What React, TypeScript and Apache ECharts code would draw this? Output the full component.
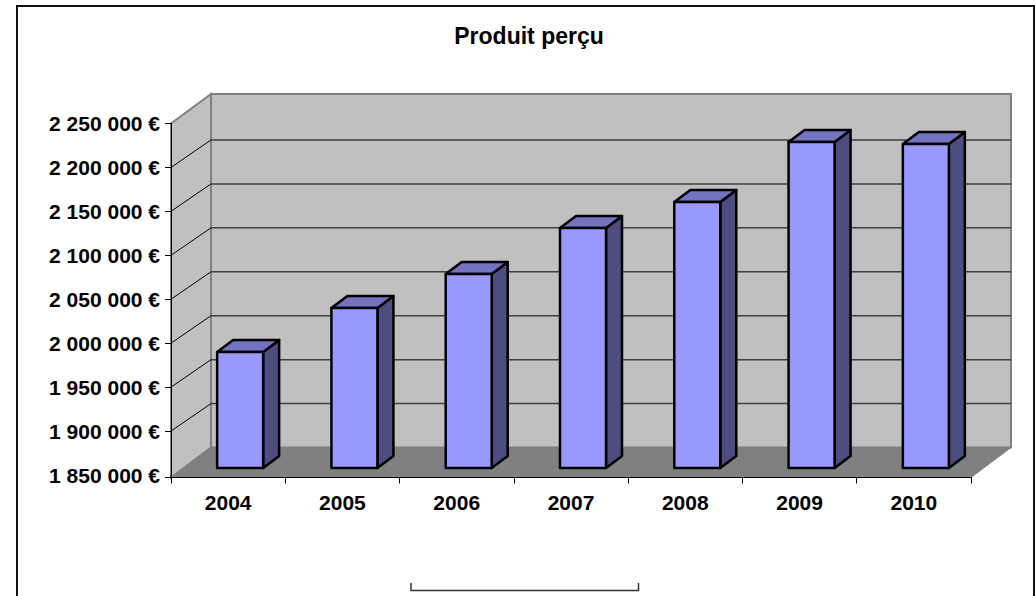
import React, { useEffect, useRef } from "react";
import * as echarts from "echarts";

const categories = ["2004", "2005", "2006", "2007", "2008", "2009", "2010"];
const values = [1982000, 2032000, 2070800, 2123100, 2152700, 2221000, 2218700];
const tickValues = [1850000, 1900000, 1950000, 2000000, 2050000, 2100000, 2150000, 2200000, 2250000];
const yMin = 1850000;
const yMax = 2250000;
const yStep = 50000;
const titleText = "Produit perçu";

const DX = 40;
const AXIS_DROP = 2.5;
const FONT = "'Liberation Sans', Arial, sans-serif";

function formatEuro(v: number) {
  return String(v).replace(/\B(?=(\d{3})+(?!\d))/g, " ") + " €";
}

function renderWalls(_: any, api: any) {
  const [x0, y0] = api.coord([0, yMin]);
  const catW = api.size([1, 0])[0];
  const left = x0 - catW / 2;
  const right = left + catW * categories.length;
  const yB = y0 + AXIS_DROP;
  const yT = api.coord([0, yMax])[1];
  const backTop = yT - 29.5;
  const backBottom = yB - 30;
  const children: any[] = [
    { type: "polygon", shape: { points: [[left, yB], [left + DX, backBottom], [left + DX, backTop], [left, yT]] }, style: { fill: "#c0c0c0", stroke: "#808080", lineWidth: 2 } },
    { type: "rect", shape: { x: left + DX, y: backTop, width: right - left, height: backBottom - backTop }, style: { fill: "#c0c0c0", stroke: "#808080", lineWidth: 2 } },
    { type: "polygon", shape: { points: [[left, yB], [right, yB], [right + DX, backBottom], [left + DX, backBottom]] }, style: { fill: "#808080", stroke: "#808080", lineWidth: 1 } },
  ];
  tickValues.slice(1, -1).forEach((t) => {
    const y = api.coord([0, t])[1];
    children.push({ type: "line", shape: { x1: left, y1: y, x2: left + DX, y2: y - 27.5 }, style: { stroke: "#000", lineWidth: 1 } });
    children.push({ type: "line", shape: { x1: left + DX, y1: y - 27.5, x2: right + DX, y2: y - 27.5 }, style: { stroke: "#404040", lineWidth: 1.5 } });
  });
  children.push({ type: "line", shape: { x1: left, y1: y0, x2: left, y2: yB }, style: { stroke: "#000", lineWidth: 1 } });
  children.push({ type: "line", shape: { x1: left - 6, y1: yB, x2: left, y2: yB }, style: { stroke: "#000", lineWidth: 1 } });
  return { type: "group", children };
}

function renderBar(_: any, api: any) {
  const cat = api.value(0);
  const val = api.value(1);
  const [cx, yTopAxis] = api.coord([cat, val]);
  const yBaseAxis = api.coord([cat, yMin])[1];
  const w = 46;
  const fx = 12, fy = -7, bx = 16, by = -12;
  const x1 = cx + fx - w / 2;
  const x2 = x1 + w;
  const yt = yTopAxis + fy;
  const yb = yBaseAxis + fy;
  const st = { stroke: "#000", lineWidth: 2.5, lineJoin: "round" };
  return {
    type: "group",
    children: [
      { type: "polygon", shape: { points: [[x2, yt], [x2 + bx, yt + by], [x2 + bx, yb + by], [x2, yb]] }, style: { fill: "#4d4d80", ...st } },
      { type: "polygon", shape: { points: [[x1, yt], [x1 + bx, yt + by], [x2 + bx, yt + by], [x2, yt]] }, style: { fill: "#7373bf", ...st } },
      { type: "rect", shape: { x: x1, y: yt, width: w, height: yb - yt }, style: { fill: "#9999ff", ...st } },
    ],
  };
}

export default function App() {
  const ref = useRef<HTMLDivElement>(null);
  useEffect(() => {
    const chart = echarts.init(ref.current!, undefined, { renderer: "svg" });
    chart.setOption({
      animation: false,
      backgroundColor: "#fff",
      title: {
        text: titleText,
        left: 524,
        top: 19,
        textAlign: "center",
        textStyle: { fontFamily: FONT, fontSize: 23, fontWeight: "bold", color: "#000" },
      },
      grid: { left: 171, right: 64, top: 123.5, height: 351.5, containLabel: false },
      xAxis: {
        type: "category",
        data: categories,
        offset: AXIS_DROP,
        axisLine: { lineStyle: { color: "#000", width: 1 } },
        axisTick: { show: true, alignWithLabel: false, length: 6, lineStyle: { color: "#000" } },
        axisLabel: { fontFamily: FONT, fontSize: 21, fontWeight: "bold", color: "#000", margin: 14 },
        z: 5,
      },
      yAxis: {
        type: "value",
        min: yMin,
        max: yMax,
        interval: yStep,
        splitLine: { show: false },
        axisLine: { show: true, lineStyle: { color: "#000", width: 1 } },
        axisTick: { show: true, length: 6, customValues: tickValues.slice(1), lineStyle: { color: "#000" } },
        axisLabel: { fontFamily: FONT, fontSize: 21, fontWeight: "bold", color: "#000", margin: 11, formatter: formatEuro },
        z: 5,
      },
      series: [
        { type: "custom", renderItem: renderWalls, data: [[0, yMin]], silent: true, z: 1, clip: false },
        { type: "custom", renderItem: renderBar, data: categories.map((c, i) => [i, values[i]]), encode: { x: 0, y: 1 }, z: 2, clip: false },
      ],
      graphic: [
        { type: "rect", z: 10, silent: true, shape: { x: 17, y: 6, width: 1017, height: 600 }, style: { fill: "none", stroke: "#111", lineWidth: 2 } },
        { type: "polyline", z: 10, silent: true, shape: { points: [[411, 583], [411, 590.5], [638.5, 590.5], [638.5, 583]] }, style: { fill: "none", stroke: "#333", lineWidth: 1.5 } },
      ],
    });
    return () => chart.dispose();
  }, []);
  return <div ref={ref} style={{ position: "absolute", left: 0, top: 0, width: 1035, height: 596 }} />;
}
